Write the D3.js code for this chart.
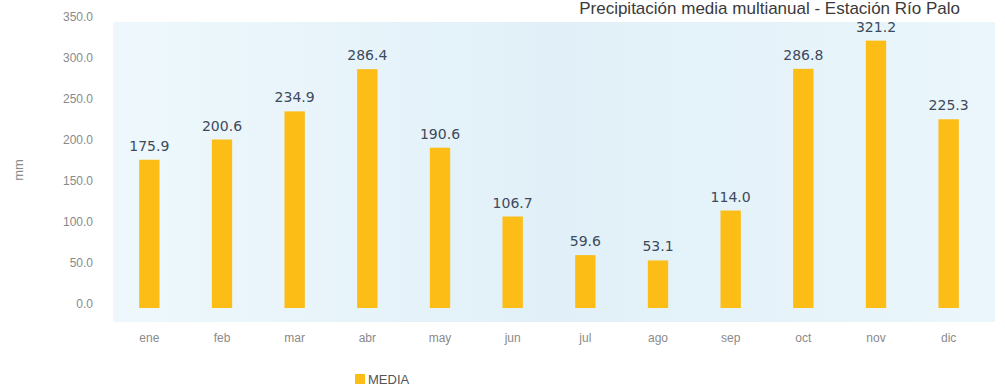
<!DOCTYPE html>
<html><head><meta charset="utf-8">
<script src="https://cdn.jsdelivr.net/npm/d3@7"></script>
<style>body{margin:0;background:#fff}svg{display:block}</style>
</head><body><svg id="c" width="1005" height="390"></svg>
<script>
const months = ["ene","feb","mar","abr","may","jun","jul","ago","sep","oct","nov","dic"];
const media = [175.9,200.6,234.9,286.4,190.6,106.7,59.6,53.1,114.0,286.8,321.2,225.3];
const yTicks = [0,50,100,150,200,250,300,350];
const title = "Precipitación media multianual - Estación Río Palo";
const seriesName = "MEDIA";
const yLabel = "mm";

const svg = d3.select("#c");
const W = 1005, H = 390;
const m = {l:113, r:20, t:17, b:86};
const defs = svg.append("defs");
const g1 = defs.append("linearGradient").attr("id","bg").attr("x1","0").attr("x2","1").attr("y1","0").attr("y2","0");
g1.append("stop").attr("offset","0").attr("stop-color","#eef8fc");
g1.append("stop").attr("offset","0.5").attr("stop-color","#e1f0f8");
g1.append("stop").attr("offset","1").attr("stop-color","#eaf6fb");

const x = d3.scaleBand().domain(months).range([m.l, W - m.r]).paddingInner(0.72).paddingOuter(0.36);
const y = d3.scaleLinear().domain([0,350]).range([304, 17]);

svg.append("rect").attr("x", m.l).attr("y", 22).attr("width", W - m.r - m.l + 10).attr("height", 300).attr("fill","url(#bg)");

svg.append("text").attr("x", 960).attr("y", 14).attr("text-anchor","end")
  .attr("font-family","Liberation Sans, Arial").attr("font-size",17).attr("fill","#3a3a3a").text(title);

const ya = svg.append("g").attr("transform",`translate(96,0)`)
  .call(d3.axisLeft(y).tickValues(yTicks).tickFormat(d3.format(".1f")).tickSize(0));
ya.select(".domain").remove();
ya.selectAll("text").attr("font-family","Liberation Sans, Arial").attr("font-size",12).attr("fill","#8a8a8a");

svg.append("text").attr("transform","translate(23,170) rotate(-90)").attr("text-anchor","middle")
  .attr("font-family","Liberation Sans, Arial").attr("font-size",13).attr("fill","#8a8a8a").text(yLabel);

const xa = svg.append("g").attr("transform",`translate(0,330)`)
  .call(d3.axisBottom(x).tickSize(0));
xa.select(".domain").remove();
xa.selectAll("text").attr("font-family","Liberation Sans, Arial").attr("font-size",12).attr("fill","#8a8a8a");

svg.append("g").selectAll("rect").data(media).join("rect")
  .attr("x",(d,i)=>x(months[i])).attr("width",x.bandwidth())
  .attr("y",d=>y(d)).attr("height",d=>y(0)-y(d)+4)
  .attr("fill","#fbbd16");

svg.append("g").selectAll("text").data(media).join("text")
  .attr("x",(d,i)=>x(months[i])+x.bandwidth()/2).attr("y",d=>y(d)-9)
  .attr("text-anchor","middle").attr("font-family","DejaVu Sans, Verdana").attr("font-size",14)
  .attr("fill","#3d4a5c").text(d=>d.toFixed(1));

const lg = svg.append("g").attr("transform","translate(355,374)");
lg.append("rect").attr("x",0).attr("y",0).attr("width",10).attr("height",10).attr("fill","#fbbd16");
lg.append("text").attr("x",13).attr("y",10).attr("font-family","Liberation Sans, Arial").attr("font-size",13).attr("fill","#555").text(seriesName);
</script></body></html>
